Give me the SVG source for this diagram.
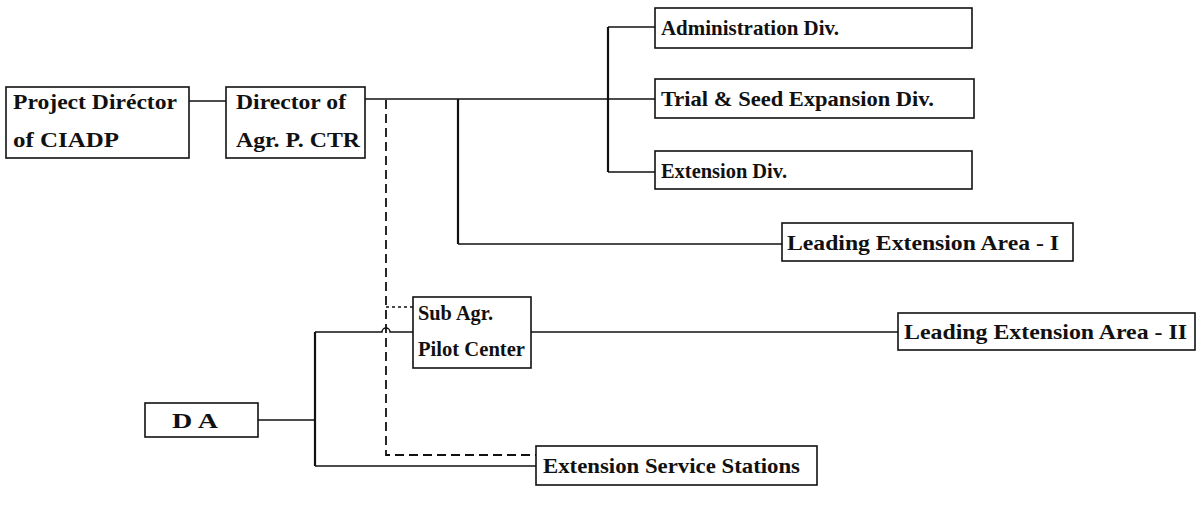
<svg xmlns="http://www.w3.org/2000/svg" width="1202" height="511" viewBox="0 0 1202 511">
  <style>
    .box { fill: #ffffff; stroke: #111111; stroke-width: 1.6; }
    .lbl { font-family: "Liberation Serif", "Times New Roman", serif; font-size: 22px; font-weight: bold; fill: #111111; }
    .ln { fill: none; stroke: #111111; stroke-width: 1.5; }
    .thick { fill: none; stroke: #111111; stroke-width: 2.2; }
    .dash { fill: none; stroke: #111111; stroke-width: 1.8; stroke-dasharray: 9 5; }
    .dot { fill: none; stroke: #111111; stroke-width: 1.5; stroke-dasharray: 3 3; }
  </style>
  <rect width="1202" height="511" fill="#ffffff"/>

  <!-- connectors -->
  <g id="connectors">
    <!-- Project Director to Director of Agr. P. CTR -->
    <line class="ln" x1="189" y1="101" x2="226" y2="101"/>
    <!-- Director trunk to divisions -->
    <line class="ln" x1="365" y1="99" x2="655" y2="99"/>
    <line class="thick" x1="608" y1="27" x2="608" y2="172"/>
    <line class="ln" x1="608" y1="27" x2="655" y2="27"/>
    <line class="ln" x1="608" y1="172" x2="655" y2="172"/>
    <!-- branch to Leading Extension Area - I -->
    <polyline class="thick" points="458,99 458,244"/>
    <line class="ln" x1="458" y1="244" x2="782" y2="244"/>
    <!-- dashed supervision line -->
    <polyline class="dash" points="386,100 386,455 536,455"/>
    <line class="dot" x1="386" y1="307" x2="413" y2="307"/>
    <!-- DA to Sub Agr. Pilot Center and Extension Service Stations -->
    <line class="ln" x1="258" y1="420" x2="315" y2="420"/>
    <line class="thick" x1="315" y1="332" x2="315" y2="466"/>
    <path class="ln" d="M315,332 H382 A4,4 0 0 1 390,332 H413"/>
    <line class="ln" x1="315" y1="466" x2="536" y2="466"/>
    <!-- Sub Agr. Pilot Center to Leading Extension Area - II -->
    <line class="ln" x1="531" y1="332" x2="898" y2="332"/>
  </g>

  <g id="project-director">
    <rect class="box" x="6" y="87" width="183" height="71"/>
    <text class="lbl" x="13" y="109" textLength="164" lengthAdjust="spacingAndGlyphs">Project Diréctor</text>
    <text class="lbl" x="13" y="147" textLength="106" lengthAdjust="spacingAndGlyphs">of CIADP</text>
  </g>

  <g id="director-agr">
    <rect class="box" x="226" y="87" width="139" height="71"/>
    <text class="lbl" x="236" y="109" textLength="110" lengthAdjust="spacingAndGlyphs">Director of</text>
    <text class="lbl" x="236" y="147" textLength="124" lengthAdjust="spacingAndGlyphs">Agr. P. CTR</text>
  </g>

  <g id="admin-div">
    <rect class="box" x="655" y="8" width="317" height="40"/>
    <text class="lbl" x="661" y="35" textLength="178" lengthAdjust="spacingAndGlyphs">Administration Div.</text>
  </g>

  <g id="trial-div">
    <rect class="box" x="655" y="79" width="319" height="39"/>
    <text class="lbl" x="661" y="106" textLength="273" lengthAdjust="spacingAndGlyphs">Trial &amp; Seed Expansion Div.</text>
  </g>

  <g id="extension-div">
    <rect class="box" x="655" y="151" width="317" height="38"/>
    <text class="lbl" x="661" y="178" textLength="126" lengthAdjust="spacingAndGlyphs">Extension Div.</text>
  </g>

  <g id="leading-area-1">
    <rect class="box" x="782" y="223" width="291" height="38"/>
    <text class="lbl" x="787" y="250" textLength="272" lengthAdjust="spacingAndGlyphs">Leading Extension Area - I</text>
  </g>

  <g id="sub-agr">
    <rect class="box" x="413" y="297" width="118" height="71"/>
    <text class="lbl" x="418" y="320" textLength="75" lengthAdjust="spacingAndGlyphs">Sub Agr.</text>
    <text class="lbl" x="418" y="356" textLength="107" lengthAdjust="spacingAndGlyphs">Pilot Center</text>
  </g>

  <g id="leading-area-2">
    <rect class="box" x="898" y="313" width="297" height="37"/>
    <text class="lbl" x="904" y="339" textLength="283" lengthAdjust="spacingAndGlyphs">Leading Extension Area - II</text>
  </g>

  <g id="da">
    <rect class="box" x="145" y="403" width="113" height="34"/>
    <text class="lbl" x="172" y="428" textLength="46" lengthAdjust="spacingAndGlyphs">D A</text>
  </g>

  <g id="service-stations">
    <rect class="box" x="536" y="446" width="281" height="39"/>
    <text class="lbl" x="543" y="473" textLength="257" lengthAdjust="spacingAndGlyphs">Extension Service Stations</text>
  </g>
</svg>
